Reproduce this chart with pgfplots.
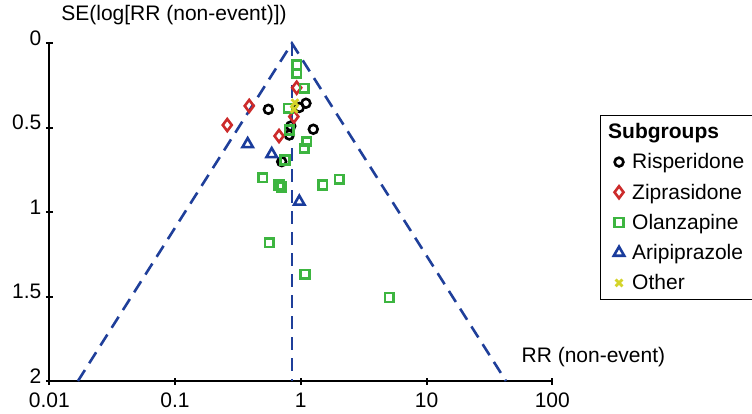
\documentclass[border=0pt]{standalone}
\usepackage{fontspec}
\setmainfont{Liberation Sans}
\usepackage{pgfplots}
\pgfplotsset{compat=1.18}
\definecolor{fblue}{HTML}{1F3F9A}
\definecolor{tblue}{HTML}{1A3C9C}
\definecolor{dred}{HTML}{CC2B2B}
\definecolor{dgreen}{HTML}{3DB540}
\definecolor{dyellow}{HTML}{D4D42A}
\begin{document}
\begin{tikzpicture}
\path[use as bounding box] (0,0) rectangle (752pt,414pt);
\begin{axis}[
  at={(49.3pt,33pt)}, anchor=south west,
  scale only axis, width=503pt, height=337.7pt,
  xmode=log, xmin=0.01, xmax=100, ymin=0, ymax=2, y dir=reverse,
  axis x line=bottom, axis y line=left,
  axis line style={line width=2pt,-},
  xtick={0.01,0.1,1,10,100}, xticklabels={0.01,0.1,1,10,100},
  ytick={0,0.5,1,1.5,2}, yticklabels={0,0.5,1,1.5,2},
  xminorticks=false,
  tick align=center, major tick length=7pt,
  tick style={black,line width=2pt},
  tick label style={font=\fontsize{21}{24}\selectfont},
  xticklabel style={yshift=-5pt},
  yticklabel style={yshift=5pt, xshift=-1pt},
  /pgf/number format/assume math mode=true,
  xlabel={RR (non-event)},
  ylabel={SE(log[RR (non-event)])},
  label style={font=\fontsize{21}{24}\selectfont},
  xlabel style={at={(axis description cs:0.932,0.071)}, anchor=west},
  ylabel style={rotate=-90, at={(axis description cs:0.017,1.084)}, anchor=west},
  clip=false,
  legend cell align=left,
  legend style={at={(axis description cs:1.0948,0.7877)}, anchor=north west,
    draw=black, line width=1pt, font=\fontsize{21}{24}\selectfont,
    row sep=9.5pt, inner xsep=10pt, inner ysep=6pt},
]
\addlegendimage{empty legend}
\addlegendentry{\hspace{-18pt}\textbf{Subgroups}}
% funnel
\addplot[forget plot, fblue, line width=2.6pt, dash pattern=on 13pt off 8pt]
  coordinates {(0.0169,2) (0.85,0) (42.8,2)};
\addplot[forget plot, fblue, line width=2.6pt, dash pattern=on 13pt off 8pt]
  coordinates {(0.85,0) (0.85,2)};
% Risperidone
\addplot[only marks, mark=o, mark size=4.4pt, black, line width=2.6pt]
  coordinates {(0.552,0.391) (1.099,0.355) (0.973,0.380) (1.257,0.509)
  (0.832,0.490) (0.705,0.701) (0.81,0.543)};
\addlegendentry{\hspace{6pt}Risperidone}
% Ziprasidone
\addplot[only marks, mark=diamond, mark size=6pt, dred, line width=2.6pt]
  coordinates {(0.927,0.263) (0.389,0.371) (0.260,0.484) (0.671,0.549) (0.88,0.434)};
\addlegendentry{\hspace{6pt}Ziprasidone}
% Olanzapine
\addplot[only marks, mark=square, mark size=4.4pt, dgreen, line width=2.6pt]
  coordinates {(0.927,0.129) (0.927,0.178) (1.067,0.267) (0.795,0.385)
  (0.810,0.514) (1.114,0.583) (1.067,0.622) (0.749,0.691) (0.498,0.796)
  (0.705,0.850) (0.671,0.839) (1.493,0.839) (2.024,0.806) (0.561,1.181)
  (1.080,1.368) (5.06,1.505)};
\addlegendentry{\hspace{6pt}Olanzapine}
% Aripiprazole
\addplot[only marks, mark=triangle, mark size=6pt, tblue, line width=2.6pt]
  coordinates {(0.378,0.597) (0.587,0.656) (0.973,0.938)};
\addlegendentry{\hspace{6pt}Aripiprazole}
% Other
\addplot[only marks, mark=x, mark size=4.8pt, dyellow, line width=2.8pt]
  coordinates {(0.899,0.352) (0.885,0.390)};
\addlegendentry{\hspace{6pt}Other}
\end{axis}
\end{tikzpicture}
\end{document}
